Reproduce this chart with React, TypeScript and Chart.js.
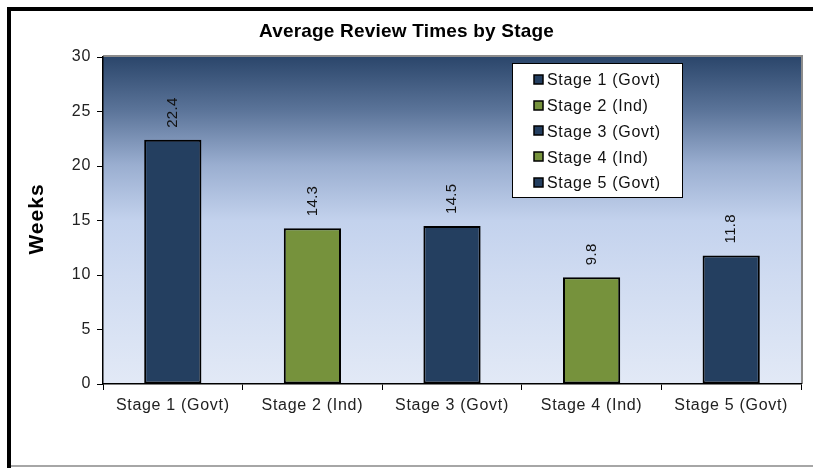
import React, { useEffect, useRef } from 'react';
import { Chart, registerables } from 'chart.js';

Chart.register(...registerables);

const chartTitle = 'Average Review Times by Stage';
const yAxisTitle = 'Weeks';
const categories = ['Stage 1 (Govt)', 'Stage 2 (Ind)', 'Stage 3 (Govt)', 'Stage 4 (Ind)', 'Stage 5 (Govt)'];
const reviewWeeks = [22.4, 14.3, 14.5, 9.8, 11.8];
const stageTypes = ['Govt', 'Ind', 'Govt', 'Ind', 'Govt'];
const yTicks = [0, 5, 10, 15, 20, 25, 30];

const NAVY = '#243f60';
const GREEN = '#76923c';
const FONT = "'Liberation Sans', Arial, sans-serif";

const barColors = stageTypes.map((t) => (t === 'Govt' ? NAVY : GREEN));

const decorPlugin = {
  id: 'decor',
  beforeDraw(chart: any) {
    const { ctx, chartArea: a } = chart;
    const W = chart.width;
    const H = chart.height;
    ctx.save();
    ctx.fillStyle = '#ffffff';
    ctx.fillRect(0, 0, W, H);
    // outer frame
    ctx.fillStyle = '#000000';
    ctx.fillRect(7, 7, W - 7, 4);
    ctx.fillRect(7, 7, 4, H - 7);
    ctx.fillStyle = '#a6a6a6';
    ctx.fillRect(11, 465, W - 11, 2);
    // plot area gradient
    const g = ctx.createLinearGradient(0, a.top, 0, a.bottom);
    g.addColorStop(0, '#2b466b');
    g.addColorStop(0.16, '#5a7398');
    g.addColorStop(0.33, '#9aaed0');
    g.addColorStop(0.5, '#c3d2ed');
    g.addColorStop(0.67, '#cfdbf1');
    g.addColorStop(1, '#e2e9f6');
    ctx.fillStyle = g;
    ctx.fillRect(a.left, a.top, a.right - a.left, a.bottom - a.top);
    // gray shadow border top/right
    ctx.strokeStyle = '#8c8c8c';
    ctx.lineWidth = 2;
    ctx.beginPath();
    ctx.moveTo(a.left, a.top - 1);
    ctx.lineTo(a.right + 1, a.top - 1);
    ctx.lineTo(a.right + 1, a.bottom);
    ctx.stroke();
    ctx.restore();
    ctx.letterSpacing = '0.7px';
  },
  afterDraw(chart: any) {
    const { ctx } = chart;
    // title
    ctx.save();
    ctx.letterSpacing = '0.2px';
    ctx.fillStyle = '#000000';
    ctx.font = `bold 19px ${FONT}`;
    ctx.textAlign = 'center';
    ctx.textBaseline = 'middle';
    ctx.fillText(chartTitle, 406.5, 32);
    ctx.restore();

    // y axis title
    ctx.save();
    ctx.letterSpacing = '1px';
    ctx.fillStyle = '#000000';
    ctx.font = `bold 21px ${FONT}`;
    ctx.translate(37, 219);
    ctx.rotate(-Math.PI / 2);
    ctx.textAlign = 'center';
    ctx.textBaseline = 'middle';
    ctx.fillText(yAxisTitle, 0, 0);
    ctx.restore();

    // data labels
    const meta = chart.getDatasetMeta(0);
    meta.data.forEach((el: any, i: number) => {
      ctx.save();
      ctx.letterSpacing = '0.3px';
      ctx.fillStyle = '#111111';
      ctx.font = `15px ${FONT}`;
      ctx.translate(el.x, el.y - 12);
      ctx.rotate(-Math.PI / 2);
      ctx.textAlign = 'left';
      ctx.textBaseline = 'middle';
      ctx.fillText(String(reviewWeeks[i]), 0, 0);
      ctx.restore();
    });

    // legend
    ctx.save();
    ctx.fillStyle = '#ffffff';
    ctx.fillRect(512, 63, 170, 134);
    ctx.strokeStyle = '#000000';
    ctx.lineWidth = 1;
    ctx.strokeRect(512.5, 63.5, 170, 134);
    ctx.letterSpacing = '0.7px';
    ctx.font = `16px ${FONT}`;
    ctx.textAlign = 'left';
    ctx.textBaseline = 'middle';
    categories.forEach((c, i) => {
      const cy = 80 + i * 25.7;
      ctx.fillStyle = barColors[i];
      ctx.fillRect(534, Math.round(cy - 5), 9, 9);
      ctx.strokeStyle = '#000000';
      ctx.lineWidth = 1.5;
      ctx.strokeRect(534, Math.round(cy - 5), 9, 9);
      ctx.fillStyle = '#111111';
      ctx.fillText(c, 547, cy + 1);
    });
    ctx.restore();
  },
};

export default function App() {
  const ref = useRef<HTMLCanvasElement | null>(null);
  useEffect(() => {
    if (!ref.current) return;
    const chart = new Chart(ref.current, {
      type: 'bar',
      data: {
        labels: categories,
        datasets: [
          {
            data: reviewWeeks,
            backgroundColor: barColors,
            borderColor: '#000000',
            borderWidth: 2,
            borderSkipped: false,
            barPercentage: 0.41,
            categoryPercentage: 1,
          },
        ],
      },
      options: {
        responsive: false,
        animation: false,
        devicePixelRatio: 1,
        layout: { padding: { left: 0, top: 57, right: 12, bottom: 0 } },
        plugins: {
          legend: { display: false },
          title: { display: false },
          tooltip: { enabled: false },
        },
        scales: {
          x: {
            offset: true,
            grid: {
              display: true,
              offset: true,
              drawOnChartArea: false,
              drawTicks: true,
              tickLength: 6,
              color: '#000000',
              lineWidth: 1,
            },
            border: { display: true, color: '#000000', width: 1.5 },
            ticks: {
              color: '#222222',
              font: { family: FONT, size: 16 },
              padding: 6,
              maxRotation: 0,
              autoSkip: false,
            },
            afterFit: (s: any) => {
              s.height = 84;
            },
          },
          y: {
            min: 0,
            max: 30,
            grid: {
              display: true,
              drawOnChartArea: false,
              drawTicks: true,
              tickLength: 6,
              color: '#000000',
              lineWidth: 1,
            },
            border: { display: true, color: '#000000', width: 1.5 },
            ticks: {
              color: '#222222',
              font: { family: FONT, size: 16 },
              padding: 6,
            },
            afterBuildTicks: (s: any) => {
              s.ticks = yTicks.map((v) => ({ value: v }));
            },
            afterFit: (s: any) => {
              s.width = 103;
            },
          },
        },
      },
      plugins: [decorPlugin],
    });
    return () => chart.destroy();
  }, []);
  return (
    <div style={{ position: 'absolute', left: 0, top: 0, width: 813, height: 468 }}>
      <canvas ref={ref} width={813} height={468} style={{ display: 'block', width: 813, height: 468 }} />
    </div>
  );
}
